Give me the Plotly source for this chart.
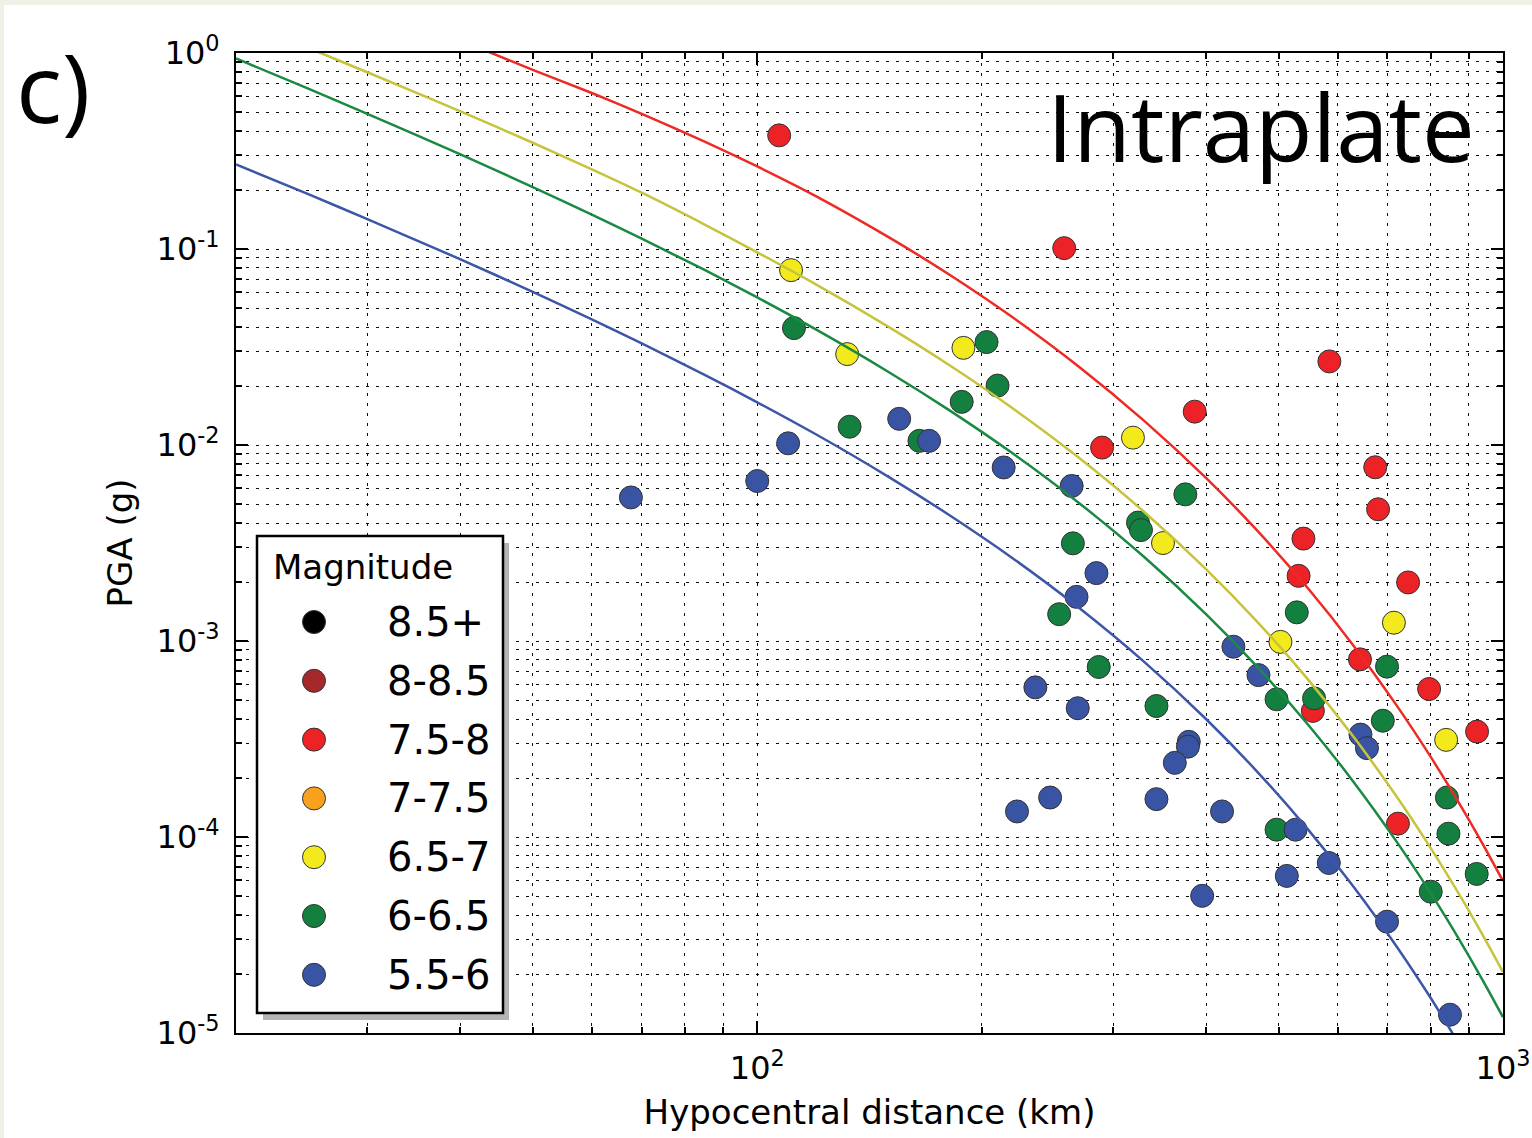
import plotly.graph_objects as go

# ---------------- data ----------------
mag_labels = ["8.5+", "8-8.5", "7.5-8", "7-7.5", "6.5-7", "6-6.5", "5.5-6"]
mag_colors = ["#000000", "#a5282b", "#ec2227", "#f7a11c", "#f2ea1d", "#13803f", "#3a54a4"]

# observed PGA, magnitude 7.5-8
red_dist = [107, 258, 585, 386, 290, 674, 680, 540, 532, 746, 643, 796, 556, 923, 723]
red_pga = [0.38, 0.101, 0.0267, 0.0148, 0.0097, 0.0077, 0.0047, 0.00333, 0.00215,
           0.00199, 0.000806, 0.000569, 0.00044, 0.000345, 0.000117]

# observed PGA, magnitude 6.5-7
yellow_dist = [111, 132, 189, 319, 350, 503, 714, 839]
yellow_pga = [0.078, 0.0291, 0.0313, 0.0109, 0.00316, 0.00099, 0.00124, 0.000313]

# observed PGA, magnitude 6-6.5
green_dist = [112, 133, 165, 188, 203, 210, 324, 327, 375, 265, 254, 287, 343, 529,
              497, 558, 699, 690, 841, 845, 497, 800, 922]
green_pga = [0.0395, 0.0124, 0.0105, 0.0166, 0.0335, 0.0201, 0.00402, 0.00368, 0.0056,
             0.00315, 0.00137, 0.000737, 0.000466, 0.0014, 0.000504, 0.00051, 0.00074,
             0.000392, 0.000159, 0.000104, 0.000109, 5.26e-5, 6.48e-5]

# observed PGA, magnitude 5.5-6
blue_dist = [67.7, 100, 110, 155, 170, 214, 264, 285, 268, 236, 269, 223, 247, 379,
             378, 363, 343, 420, 395, 435, 470, 644, 657, 527, 513, 584, 699, 849]
blue_pga = [0.0054, 0.00655, 0.0102, 0.0136, 0.0105, 0.00768, 0.00618, 0.00222, 0.00168,
            0.00058, 0.000454, 0.000135, 0.000159, 0.000306, 0.000289, 0.000239,
            0.000156, 0.000135, 5.01e-5, 0.000935, 0.00067, 0.000333, 0.000284,
            0.000109, 6.33e-5, 7.37e-5, 3.7e-5, 1.24e-5]

# model curves (values read along each line of the reference)
red_curve_dist = [42, 50, 60, 70, 85, 100, 120, 150, 180, 220, 270, 330, 400, 470, 550,
                  630, 720, 800, 880, 950, 1000]
red_curve_pga = [1.075, 0.8206, 0.6249, 0.4888, 0.3532, 0.2636, 0.1856, 0.1149, 0.0750,
                 0.04481, 0.02509, 0.01332, 0.006772, 0.0036, 0.00182, 0.0009495,
                 0.0004693, 0.0002561, 0.0001417, 8.531e-5, 5.966e-5]

yellow_curve_dist = [20, 25, 30, 40, 50, 60, 70, 85, 100, 120, 150, 180, 220, 270, 330,
                     400, 470, 550, 630, 720, 800, 880, 950, 1000]
yellow_curve_pga = [1.503, 1.061, 0.7976, 0.5042, 0.3484, 0.2550, 0.1937, 0.1333, 0.09614,
                    0.06583, 0.04005, 0.02589, 0.0154, 0.008603, 0.004568, 0.002321,
                    0.001234, 0.000624, 0.0003254, 0.0001609, 8.777e-5, 4.859e-5,
                    2.924e-5, 2.045e-5]

green_curve_dist = [20, 25, 30, 40, 50, 60, 70, 85, 100, 120, 150, 180, 220, 270, 330,
                    400, 470, 550, 630, 720, 800, 880, 950, 1000]
green_curve_pga = [0.9375, 0.6576, 0.4895, 0.3038, 0.2071, 0.1499, 0.1130, 0.07815,
                   0.05661, 0.03877, 0.02359, 0.01524, 0.009066, 0.005064, 0.00269,
                   0.001367, 0.0007266, 0.0003674, 0.0001916, 9.475e-5, 5.169e-5,
                   2.861e-5, 1.721e-5, 1.204e-5]

blue_curve_dist = [20, 25, 30, 40, 50, 60, 70, 85, 100, 120, 150, 180, 220, 270, 330,
                   400, 470, 550, 630, 720, 800, 860]
blue_curve_pga = [0.2700, 0.1905, 0.1420, 0.08859, 0.06041, 0.04372, 0.03298, 0.0228,
                  0.01652, 0.01131, 0.006881, 0.004446, 0.002645, 0.001477, 0.0007847,
                  0.0003988, 0.000212, 0.0001072, 5.59e-5, 2.764e-5, 1.508e-5, 9.66e-6]

x_major = [100, 1000]
x_major_text = ["10<sup>2</sup>", "10<sup>3</sup>"]
x_minor = [20, 30, 40, 50, 60, 70, 80, 90, 200, 300, 400, 500, 600, 700, 800, 900]
y_major = [1e-5, 1e-4, 1e-3, 1e-2, 1e-1, 1]
y_major_text = ["10<sup>-5</sup>", "10<sup>-4</sup>", "10<sup>-3</sup>",
                "10<sup>-2</sup>", "10<sup>-1</sup>", "10<sup>0</sup>"]
y_minor = [m * 10.0 ** e for e in range(-5, 0) for m in range(2, 10)]

# ---------------- figure ----------------
W, H = 1532, 1138
ML, MR, MT, MB = 236, 29, 53, 105
PW, PH = W - ML - MR, H - MT - MB


def px_x(p):
    return (p - ML) / PW


def px_y(p):
    return (H - MB - p) / PH


fig = go.Figure()

marker_line = dict(color="#333333", width=1)
groups = [
    (red_dist, red_pga, mag_colors[2], mag_labels[2]),
    (green_dist, green_pga, mag_colors[5], mag_labels[5]),
    (yellow_dist, yellow_pga, mag_colors[4], mag_labels[4]),
    (blue_dist, blue_pga, mag_colors[6], mag_labels[6]),
]
for xs, ys, col, name in groups:
    fig.add_trace(go.Scatter(x=xs, y=ys, mode="markers", name=name,
                             marker=dict(size=23, color=col, line=marker_line),
                             showlegend=False))

curves = [
    (blue_curve_dist, blue_curve_pga, "#3d57a8"),
    (green_curve_dist, green_curve_pga, "#1a8a42"),
    (yellow_curve_dist, yellow_curve_pga, "#c6c33c"),
    (red_curve_dist, red_curve_pga, "#ee2a24"),
]
for xs, ys, col in curves:
    fig.add_trace(go.Scatter(x=xs, y=ys, mode="lines",
                             line=dict(color=col, width=2.5, shape="spline", smoothing=0.6),
                             showlegend=False, hoverinfo="skip"))

grid_col = "rgba(0,0,0,0.95)"
grid_dash = "3px,7px"
axis_common = dict(
    type="log", showline=True, linecolor="black", linewidth=2, mirror="ticks",
    ticks="inside", ticklen=12, tickwidth=1.5, tickcolor="black",
    showgrid=True, gridcolor=grid_col, gridwidth=1, griddash=grid_dash,
    zeroline=False, tickfont=dict(family="DejaVu Sans", size=32, color="black"),
)

fig.update_xaxes(
    **axis_common, range=[1.30103, 3], tickmode="array", tickvals=x_major,
    ticktext=x_major_text, ticklabelstandoff=6,
    minor=dict(tickmode="array", tickvals=x_minor, ticks="inside", ticklen=6,
               tickcolor="black", showgrid=True, gridcolor=grid_col, griddash=grid_dash,
               gridwidth=1),
    title=dict(text="Hypocentral distance (km)",
               font=dict(family="DejaVu Sans", size=34, color="black"), standoff=14),
)
fig.update_yaxes(
    **axis_common, range=[-5, 0], tickmode="array", tickvals=y_major,
    ticktext=y_major_text, ticklabelstandoff=8,
    minor=dict(tickmode="array", tickvals=y_minor, ticks="inside", ticklen=6,
               tickcolor="black", showgrid=True, gridcolor=grid_col, griddash=grid_dash,
               gridwidth=1),
    title=dict(text="PGA (g)", font=dict(family="DejaVu Sans", size=34, color="black"),
               standoff=14),
)

shapes = []
annotations = []

# light slide border
shapes.append(dict(type="rect", xref="paper", yref="paper", x0=px_x(0), x1=px_x(W),
                   y0=px_y(5), y1=px_y(0), fillcolor="#eef2e6", line=dict(width=0),
                   layer="below"))
shapes.append(dict(type="rect", xref="paper", yref="paper", x0=px_x(0), x1=px_x(4),
                   y0=px_y(H), y1=px_y(0), fillcolor="#eef2e6", line=dict(width=0),
                   layer="below"))

# legend box (drawn manually to match the original layout)
bx0, by0, bx1, by1 = 257, 536, 503, 1013
shapes.append(dict(type="rect", xref="paper", yref="paper",
                   x0=px_x(bx0 + 6), x1=px_x(bx1 + 6), y0=px_y(by1 + 7), y1=px_y(by0 + 7),
                   fillcolor="#b4b4b4", line=dict(width=0), layer="above"))
shapes.append(dict(type="rect", xref="paper", yref="paper",
                   x0=px_x(bx0), x1=px_x(bx1), y0=px_y(by1), y1=px_y(by0),
                   fillcolor="white", line=dict(color="black", width=2.5), layer="above"))
annotations.append(dict(text="Magnitude", xref="paper", yref="paper", x=px_x(271),
                        y=px_y(567), xanchor="left", yanchor="middle", showarrow=False,
                        font=dict(family="DejaVu Sans", size=34, color="black")))
for i, (lab, col) in enumerate(zip(mag_labels, mag_colors)):
    ry = 622 + 58.8 * i
    shapes.append(dict(type="circle", xref="paper", yref="paper", xsizemode="pixel",
                       ysizemode="pixel", xanchor=px_x(314), yanchor=px_y(ry),
                       x0=-11.5, x1=11.5, y0=-11.5, y1=11.5, fillcolor=col,
                       line=dict(color="#333333", width=1), layer="above"))
    annotations.append(dict(text=lab, xref="paper", yref="paper", x=px_x(385),
                            y=px_y(ry), xanchor="left", yanchor="middle",
                            showarrow=False,
                            font=dict(family="DejaVu Sans", size=40, color="black")))

annotations.append(dict(text="Intraplate", xref="paper", yref="paper", x=px_x(1261),
                        y=px_y(126), xanchor="center", yanchor="middle", showarrow=False,
                        font=dict(family="Open Sans", size=94, color="black")))
annotations.append(dict(text="c)", xref="paper", yref="paper", x=px_x(53), y=px_y(86),
                        xanchor="center", yanchor="middle", showarrow=False,
                        font=dict(family="Open Sans", size=96, color="black")))

fig.update_layout(
    width=W, height=H, margin=dict(l=ML, r=MR, t=MT, b=MB, autoexpand=False),
    paper_bgcolor="white", plot_bgcolor="white", showlegend=False,
    font=dict(family="DejaVu Sans", color="black"),
    shapes=shapes, annotations=annotations,
)

fig.write_html("out.html")
